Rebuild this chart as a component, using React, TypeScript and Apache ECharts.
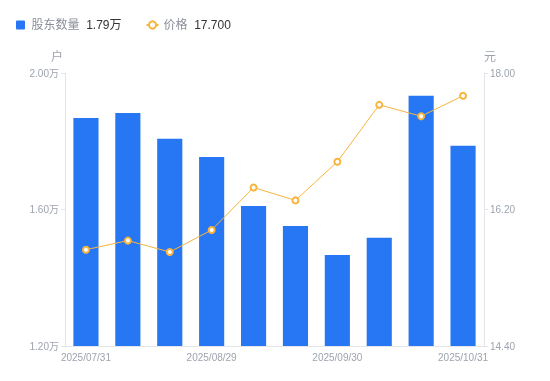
import React, { useEffect, useRef } from "react";
import * as echarts from "echarts";

const categories = [
  "2025/07/31", "2025/08/10", "2025/08/20", "2025/08/29", "2025/09/10",
  "2025/09/19", "2025/09/30", "2025/10/10", "2025/10/20", "2025/10/31",
];
const holders = [18680, 18830, 18070, 17540, 16100, 15520, 14670, 15170, 19330, 17870];
const prices = [15.67, 15.79, 15.64, 15.93, 16.49, 16.32, 16.83, 17.58, 17.43, 17.70];
const leftTicks = { min: 12000, max: 20000, interval: 4000 };
const rightTicks = { min: 14.4, max: 18.0, interval: 1.8 };
const barName = "股东数量";
const lineName = "价格";

const axisGray = "#9ea3ad";
const lineGray = "#e3e5e8";

export default function App() {
  const ref = useRef<HTMLDivElement>(null);
  useEffect(() => {
    if (!ref.current) return;
    const chart = echarts.init(ref.current, undefined, { renderer: "svg" });
    const lastHolder = (holders[holders.length - 1] / 10000).toFixed(2) + "万";
    const lastPrice = prices[prices.length - 1].toFixed(3);
    chart.setOption({
      animation: false,
      textStyle: { fontFamily: "Liberation Sans, Noto Sans CJK SC, sans-serif" },
      legend: {
        left: 11,
        top: 14,
        itemWidth: 12,
        itemHeight: 9,
        itemGap: 24,
        symbolKeepAspect: true,
        data: [
          { name: barName, icon: "path://M1,0h7a1,1 0 0 1 1,1v7a1,1 0 0 1 -1,1h-7a1,1 0 0 1 -1,-1v-7a1,1 0 0 1 1,-1z" },
          { name: lineName },
        ],
        formatter: (name: string) =>
          `{n|${name}}  {v|${name === barName ? lastHolder : lastPrice}}`,
        textStyle: {
          rich: {
            n: { fontSize: 12, color: "#8a8f99" },
            v: { fontSize: 12, color: "#333" },
          },
        },
      },
      grid: { left: 65, right: 66, top: 73, bottom: 35 },
      xAxis: {
        type: "category",
        data: categories,
        axisLine: { lineStyle: { color: lineGray } },
        axisTick: { show: false },
        axisLabel: { color: axisGray, fontSize: 10, interval: 2, margin: 6 },
      },
      yAxis: [
        {
          type: "value",
          name: "户",
          nameGap: 10,
          nameTextStyle: { color: axisGray, fontSize: 12, align: "right", padding: [0, 2, 0, 0] },
          ...leftTicks,
          axisLine: { show: true, lineStyle: { color: lineGray } },
          axisTick: { show: true, length: 4, lineStyle: { color: lineGray } },
          splitLine: { show: false },
          axisLabel: {
            color: axisGray,
            fontSize: 10,
            margin: 6,
            formatter: (v: number) => (v / 10000).toFixed(2) + "万",
          },
        },
        {
          type: "value",
          name: "元",
          nameGap: 10,
          nameTextStyle: { color: axisGray, fontSize: 12, align: "left", padding: [0, 0, 0, 0] },
          ...rightTicks,
          position: "right",
          axisLine: { show: true, lineStyle: { color: lineGray } },
          axisTick: { show: true, length: 4, lineStyle: { color: lineGray } },
          splitLine: { show: false },
          axisLabel: {
            color: axisGray,
            fontSize: 10,
            margin: 6,
            formatter: (v: number) => v.toFixed(2),
          },
        },
      ],
      series: [
        {
          name: barName,
          type: "bar",
          data: holders,
          barWidth: "60%",
          itemStyle: { color: "#2777f5" },
        },
        {
          name: lineName,
          type: "line",
          yAxisIndex: 1,
          data: prices,
          symbol: "emptyCircle",
          symbolSize: 6,
          lineStyle: { color: "#f8b43f", width: 1 },
          itemStyle: { color: "#f8b43f", borderWidth: 2 },
        },
      ],
    });
    return () => chart.dispose();
  }, []);
  return (
    <div
      ref={ref}
      style={{ position: "fixed", left: 0, top: 0, width: 550, height: 381 }}
    />
  );
}
